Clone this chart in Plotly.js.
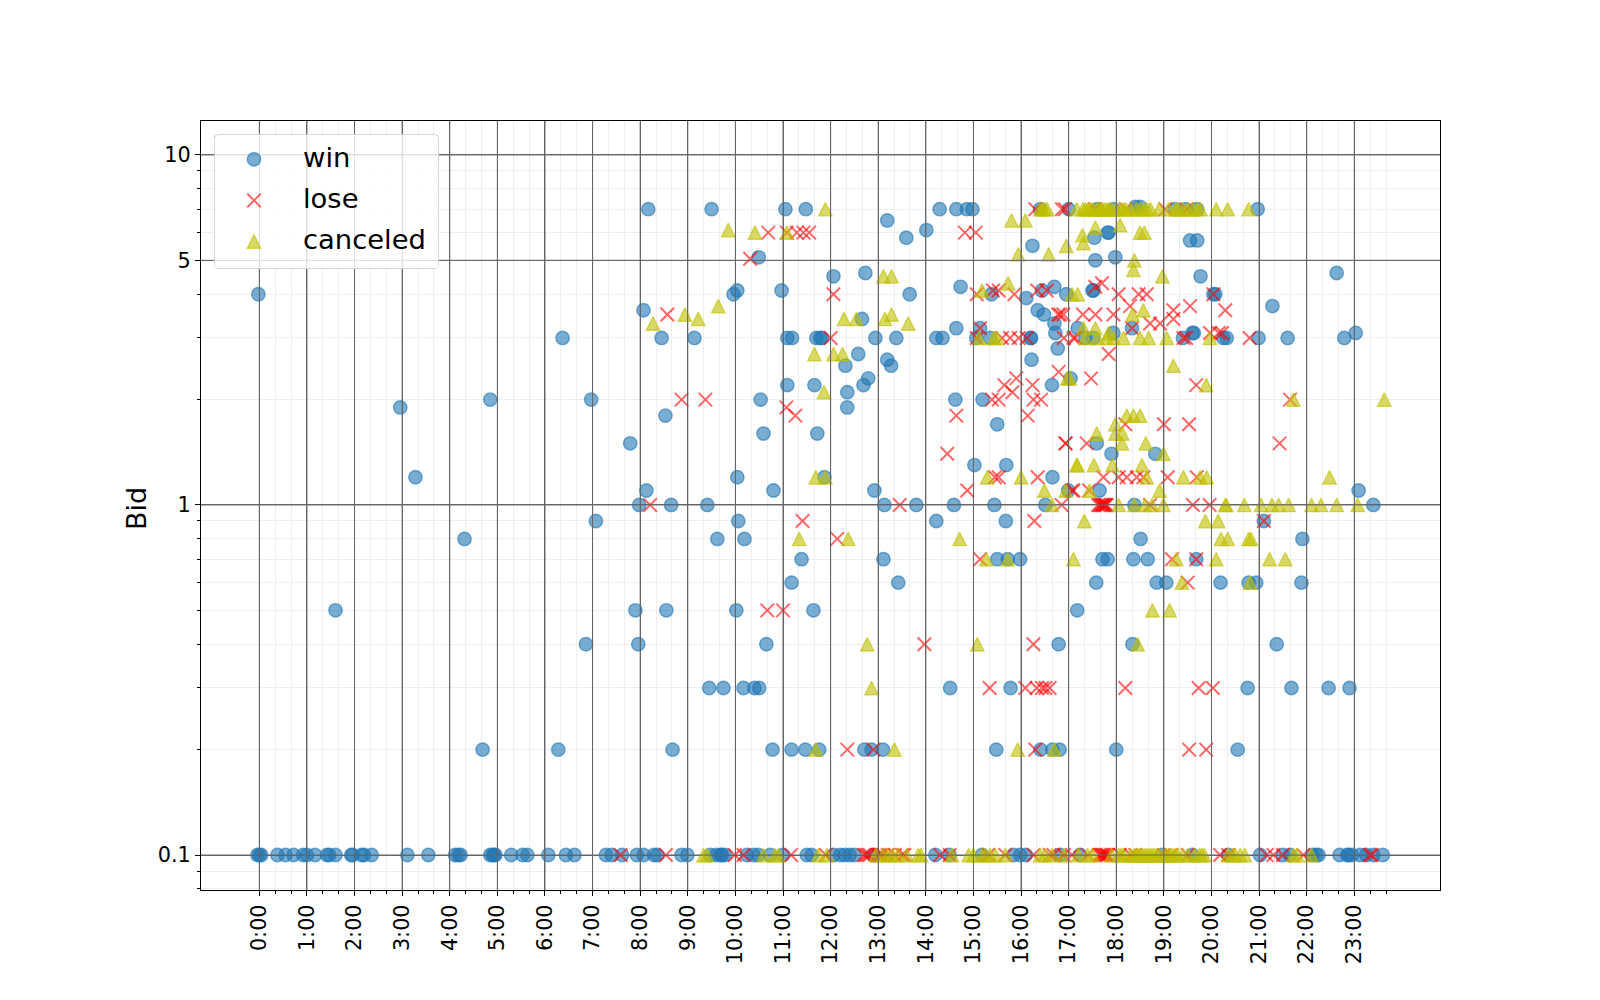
<!DOCTYPE html>
<html><head><meta charset="utf-8">
<script src="https://cdn.plot.ly/plotly-3.0.1.min.js"></script>
<style>html,body{margin:0;padding:0;background:#fff}</style></head>
<body><div id="chart" style="width:1600px;height:1000px"></div>
<script>
const hourTicks=[0,1,2,3,4,5,6,7,8,9,10,11,12,13,14,15,16,17,18,19,20,21,22,23];
const hourLabels=["0:00","1:00","2:00","3:00","4:00","5:00","6:00","7:00","8:00","9:00","10:00","11:00","12:00","13:00","14:00","15:00","16:00","17:00","18:00","19:00","20:00","21:00","22:00","23:00"];
const bidTicks=[0.1,1,5,10];
const bidLabels=["0.1","1","5","10"];
const bidMinor=[0.08,0.09,0.2,0.3,0.4,0.5,0.6,0.7,0.8,0.9,2,3,4,6,7,8,9];
const win=[[-0.02,4],[2.96,1.9],[3.28,1.2],[4.85,2],[6.37,3],[6.97,2],[7.79,1.5],[8.07,3.6],[8.17,7],[8.45,3],[8.53,1.8],[8.13,1.1],[7.98,1],[8.65,1],
[9.5,7],[11.05,7],[11.48,7],[13.19,6.5],[13.59,5.8],[14.01,6.1],[14.29,7],[14.64,7],[14.86,7],[14.98,7],[16.24,5.5],[16.4,7],[17,7],[17.6,7],[17.94,7],[18.4,7.1],[18.5,7.1],[19.24,7],[19.46,7],[19.7,7],
[10.49,5.1],[12.06,4.5],[12.73,4.6],[10.04,4.1],[9.96,4],[10.97,4.1],[13.66,4],[14.73,4.2],[15.38,4],[16.11,3.9],[16.44,4.1],[16.7,4.2],[16.95,4],[12.66,3.4],[16.35,3.6],[16.48,3.5],[15.14,3.2],[14.64,3.2],[16.7,3.3],[17.19,3.2],[16.72,3.1],
[9.14,3],[11.09,3],[11.19,3],[11.7,3],[11.78,3],[11.82,3],[12.94,3],[13.38,3],[14.22,3],[14.35,3],[15.06,3],[15.35,3],[16.21,3],[12.58,2.7],[13.19,2.6],[13.27,2.5],[12.31,2.5],[16.77,2.8],[16.22,2.6],[12.79,2.3],[12.69,2.2],[11.09,2.2],[11.66,2.2],[12.35,2.1],[16.65,2.2],[17.04,2.3],
[10.53,2],[12.35,1.9],[14.62,2],[15.19,2],[15.5,1.7],[10.59,1.6],[11.72,1.6],[15.02,1.3],[15.69,1.3],[10.04,1.2],[11.87,1.2],[16.66,1.2],[10.8,1.1],[12.92,1.1],[16.99,1.1],[9.41,1],[13.13,1],[13.8,1],[14.59,1],[15.44,1],[16.51,1],
[17.54,5.8],[17.82,6],[17.84,6],[17.56,5],[17.98,5.1],[19.55,5.7],[19.7,5.7],[19.77,4.5],[17.5,4.1],[17.52,4.1],[17.35,3],[17.52,3],[17.94,3.1],[18.33,3.2],[19.4,3],[19.6,3.1],[19.63,3.1],[20.04,4],[16.2,3],[17.59,1.5],[17.9,1.4],[18.82,1.4],[17.65,1.1],[18.38,1],
[15.68,0.9],[21.1,0.9],[18.51,0.8],[21.91,0.8],[15.5,0.7],[15.72,0.7],[15.98,0.7],[17.71,0.7],[17.82,0.7],[18.36,0.7],[18.66,0.7],[19.68,0.7],[17.58,0.6],[18.85,0.6],[19.05,0.6],[20.19,0.6],[20.78,0.6],[20.94,0.6],[21.89,0.6],[17.18,0.5],[16.79,0.4],[18.34,0.4],[21.37,0.4],[15.78,0.3],[20.76,0.3],[21.68,0.3],[22.46,0.3],[22.9,0.3],[16.41,0.2],[16.66,0.2],[16.81,0.2],[18,0.2],[20.55,0.2],[15.48,0.2],
[22.63,4.6],[20.08,4],[21.28,3.7],[20.25,3],[20.32,3],[20.99,3],[21.6,3],[22.79,3],[23.03,3.1],[20.97,7],[23.09,1.1],[23.4,1],
[7.07,0.9],[10.06,0.9],[14.22,0.9],[9.62,0.8],[10.19,0.8],[11.39,0.7],[13.11,0.7],[11.18,0.6],[13.42,0.6],[7.9,0.5],[8.55,0.5],[10.02,0.5],[11.64,0.5],[7.96,0.4],[10.65,0.4],[6.86,0.4],[9.45,0.3],[9.75,0.3],[10.17,0.3],[10.4,0.3],[10.5,0.3],[14.51,0.3],[8.68,0.2],[10.78,0.2],[11.18,0.2],[11.47,0.2],[11.76,0.2],[12.71,0.2],[12.86,0.2],[13.1,0.2],[4.69,0.2],[6.28,0.2],[1.6,0.5],[4.31,0.8],
[-0.04,0.1],[0,0.1],[0.04,0.1],[0.38,0.1],[0.55,0.1],[0.72,0.1],[0.92,0.1],[1,0.1],[1.17,0.1],[1.42,0.1],[1.47,0.1],[1.6,0.1],[1.93,0.1],[1.96,0.1],[2.15,0.1],[2.2,0.1],[2.36,0.1],[3.11,0.1],[3.55,0.1],[4.11,0.1],[4.18,0.1],[4.23,0.1],[4.85,0.1],[4.9,0.1],[4.93,0.1],[4.96,0.1],[5.29,0.1],[5.53,0.1],[5.63,0.1],[6.07,0.1],[6.44,0.1],[6.62,0.1],[7.28,0.1],[7.4,0.1],[7.62,0.1],[7.93,0.1],[8.07,0.1],[8.29,0.1],[8.36,0.1],[8.87,0.1],[8.99,0.1],[9.47,0.1],[9.6,0.1],[9.69,0.1],[9.72,0.1],[9.78,0.1],[10.24,0.1],[10.38,0.1],[10.48,0.1],[10.73,0.1],[11,0.1],[11.5,0.1],[11.6,0.1],[12.06,0.1],[12.2,0.1],[12.3,0.1],[12.4,0.1],[12.5,0.1],[12.9,0.1],[14.2,0.1],[14.5,0.1],[15.18,0.1],[15.84,0.1],[15.98,0.1],[16.1,0.1],[16.82,0.1],[17.24,0.1],[18.96,0.1],[19.6,0.1],[20.35,0.1],[21.02,0.1],[21.5,0.1],[21.65,0.1],[22.12,0.1],[22.2,0.1],[22.25,0.1],[22.69,0.1],[22.85,0.1],[22.88,0.1],[22.95,0.1],[23.12,0.1],[23.25,0.1],[23.4,0.1],[23.6,0.1]];
const lose=[[8.57,3.5],[8.87,2],[9.37,2],[8.21,1],[10.69,6],[11.08,6],[11.29,6],[11.43,6],[11.55,6],[10.31,5.05],[12.06,4],[11.07,1.9],[11.26,1.8],[12,3],[14.82,6],[15.05,6],[14.64,1.8],[14.45,1.4],[16.3,7],[16.86,7],[16.92,7],
[15.07,4],[15.41,4.1],[15.53,4.1],[15.86,4],[16.34,4.1],[16.54,4.1],[15.07,3],[15.14,3.2],[15.6,3],[15.77,3],[15.95,3],[16.12,3],[16.89,3.5],[16.78,3.5],[16.9,3],[17.14,3],[16.79,2.4],[15.9,2.3],[15.65,2.2],[15.82,2.1],[16.24,2.2],[16.26,2],[16.42,2],[15.39,2],[15.53,2],[16.14,1.8],[16.94,1.5],[15.53,1.2],[15.45,1.2],[16.35,1.2],[14.87,1.1],[13.45,1],[16.85,1],[17.1,1.1],
[17.56,4.2],[17.7,4.3],[18.05,4],[18.47,4],[18.64,4],[20.04,4],[16.82,3.5],[17.3,3.5],[17.56,3.5],[17.94,3.5],[18.29,3.7],[19.2,3.6],[19.2,3.4],[19.55,3.7],[17.1,3],[18.33,3.2],[18.71,3.3],[18.92,3.3],[19.41,3],[19.47,3],[17.84,2.7],[17.47,2.3],[19.68,2.2],[18.19,1.7],[19,1.7],[19.53,1.7],[16.93,1.5],[17.38,1.5],
[17.73,1.2],[18.05,1.2],[18.22,1.2],[18.43,1.2],[18.57,1.2],[19.08,1.2],[19.69,1.2],[17.07,1.1],[17.43,1.1],[17.62,1],[17.65,1],[17.68,1],[17.7,1],[17.72,1],[17.74,1],[17.76,1],[17.78,1],[17.8,1],[18.71,1],[19.61,1],[19.96,1],
[16.28,0.9],[21.1,0.9],[19.17,0.7],[19.68,0.7],[19.5,0.6],[11.41,0.9],[12.14,0.8],[15.14,0.7],[10.67,0.5],[11,0.5],[13.97,0.4],[16.26,0.4],[15.34,0.3],[16.09,0.3],[16.33,0.3],[16.44,0.3],[16.51,0.3],[16.6,0.3],[18.19,0.3],[19.73,0.3],[20.03,0.3],[12.35,0.2],[12.9,0.2],[16.3,0.2],[19.53,0.2],[19.89,0.2],
[20.29,3.6],[20.15,3.1],[20.22,3.1],[19.97,3.1],[20.8,3],[21.65,2],[21.43,1.5],[19.03,7],[19.48,7],[17.55,7],[18.2,7],
[7.59,0.1],[8.54,0.1],[9.99,0.1],[10.17,0.1],[11.17,0.1],[11.9,0.1],[12.7,0.1],[12.74,0.1],[12.78,0.1],[12.82,0.1],[13,0.1],[13.05,0.1],[13.1,0.1],[13.2,0.1],[13.35,0.1],[13.5,0.1],[13.55,0.1],[14.3,0.1],[14.5,0.1],[15.31,0.1],[15.67,0.1],[16.26,0.1],[16.6,0.1],[16.68,0.1],[16.9,0.1],[17.07,0.1],[17.4,0.1],[17.64,0.1],[17.67,0.1],[17.7,0.1],[17.72,0.1],[17.75,0.1],[17.78,0.1],[17.8,0.1],[17.83,0.1],[18.08,0.1],[18.3,0.1],[18.4,0.1],[19,0.1],[19.15,0.1],[19.5,0.1],[20.18,0.1],[20.35,0.1],[21.16,0.1],[21.3,0.1],[21.5,0.1],[21.93,0.1],[23.33,0.1],[23.37,0.1]];
const canceled=[[8.27,3.3],[8.94,3.5],[9.22,3.4],[9.64,3.7],[9.85,6.1],[10.41,6],[11.08,6],[11.89,7],[15.8,6.5],[16.09,6.5],[13.11,4.5],[13.28,4.5],[15.18,4.1],[15.73,4.3],[15.94,5.2],[16.58,5.2],[16.95,5.5],[12.28,3.4],[12.54,3.4],[13.14,3.4],[13.28,3.5],[13.63,3.3],[11.66,2.7],[12.06,2.7],[12.25,2.7],[11.86,2.1],[15.12,3],[15.43,3],[15.5,3],[16.97,2.3],[17.17,1.3],[11.69,1.2],[11.89,1.2],[15.29,1.2],[16,1.2],[16.49,1.1],[16.94,1.1],[16.65,1],
[16.4,7],[16.45,7],[16.5,7],[16.55,7],[17.17,7],[17.3,7],[17.35,7],[17.4,7],[17.45,7],[17.5,7],[17.6,7],[17.65,7],[17.7,7],[17.75,7],[17.8,7],[17.85,7],[17.9,7],[18,7],[18.1,7],[18.15,7],[18.2,7],[18.3,7],[18.42,7],[18.5,7],[18.58,7],[18.65,7],[18.72,7],[18.9,7],[19.1,7],[19.25,7],[19.3,7],[19.4,7],[19.5,7],[19.6,7],[19.7,7],[19.77,7],[20.1,7],[20.34,7],[20.78,7],
[17.29,5.9],[17.56,6.2],[17.31,5.6],[18.08,6.3],[18.5,6],[18.59,6],[18.38,5],[18.36,4.7],[18.97,4.5],[17.07,4],[17.19,4],[18.57,3.6],[18.34,3.5],[17.31,3.2],[17.56,3.2],[17.84,3.1],[17.35,3],[17.6,3],[17.8,3],[17.94,3],[18.15,3],[18.5,3],[18.68,3],[19.06,3],[19.97,3],
[19.2,2.5],[17.02,2.3],[19.89,2.2],[18.22,1.8],[18.36,1.8],[18.5,1.8],[17.98,1.7],[17.59,1.6],[17.98,1.6],[18.13,1.6],[18.12,1.5],[18.62,1.5],[18.99,1.4],[17.18,1.3],[17.53,1.3],[17.92,1.3],[18.54,1.3],[18.64,1.2],[19.41,1.2],[19.76,1.2],[19.9,1.2],[17.44,1.1],[18.91,1.1],[18.05,1],[18.38,1],[18.6,1],[18.75,1],[18.99,1],
[20.29,1],[20.31,1],[20.69,1],[21.04,1],[21.27,1],[21.41,1],[21.62,1],[22.1,1],[22.3,1],[22.63,1],[23.07,1],[17.33,0.9],[19.87,0.9],[20.14,0.9],[20.2,0.8],[20.34,0.8],[20.78,0.8],[20.83,0.8],[17.1,0.7],[15.72,0.7],[19.26,0.7],[20.1,0.7],[21.22,0.7],[21.55,0.7],[19.38,0.6],[20.81,0.6],[18.76,0.5],[19.12,0.5],[18.45,0.4],[12.86,0.3],[12.77,0.4],[15.08,0.4],[11.34,0.8],[12.37,0.8],[14.71,0.8],[15.27,0.7],[11.69,0.2],[13.34,0.2],[15.93,0.2],[16.7,0.2],[21.72,2],[23.63,2],[22.48,1.2],
[9.33,0.1],[9.4,0.1],[10.59,0.1],[10.83,0.1],[10.9,0.1],[11.74,0.1],[11.92,0.1],[12.95,0.1],[13.1,0.1],[13.2,0.1],[13.3,0.1],[13.42,0.1],[13.6,0.1],[13.84,0.1],[13.9,0.1],[14.55,0.1],[14.9,0.1],[15,0.1],[15.18,0.1],[15.25,0.1],[15.35,0.1],[15.46,0.1],[15.67,0.1],[16.4,0.1],[16.5,0.1],[16.65,0.1],[16.9,0.1],[17.2,0.1],[17.4,0.1],[17.5,0.1],[17.9,0.1],[18.05,0.1],[18.1,0.1],[18.15,0.1],[18.3,0.1],[18.38,0.1],[18.42,0.1],[18.46,0.1],[18.5,0.1],[18.55,0.1],[18.6,0.1],[18.65,0.1],[18.7,0.1],[18.75,0.1],[18.8,0.1],[18.85,0.1],[18.9,0.1],[19,0.1],[19.05,0.1],[19.1,0.1],[19.15,0.1],[19.2,0.1],[19.25,0.1],[19.3,0.1],[19.4,0.1],[19.5,0.1],[19.65,0.1],[19.75,0.1],[19.8,0.1],[19.85,0.1],[20.35,0.1],[20.45,0.1],[20.5,0.1],[20.6,0.1],[20.7,0.1],[21.72,0.1],[21.8,0.1],[22.1,0.1]];

const gridDark='#666666', gridLight='#eeeeee';
const hourMinor=[];
for(const h of hourTicks){hourMinor.push(h+1/3,h+2/3);}
const blue='rgba(31,119,180,0.6)', red='rgba(255,0,0,0.6)', olive='rgba(191,191,0,0.6)';
function tr(pts,name,marker){return {type:'scatter',mode:'markers',name,legendgroup:name,x:pts.map(p=>p[0]),y:pts.map(p=>p[1]),marker};}
const traces=[
 tr(win,'win',{symbol:'circle',size:13.4,color:blue,line:{color:blue,width:1.4}}),
 tr(lose,'lose',{symbol:'x-thin',size:13.5,color:red,line:{color:red,width:2}}),
 tr(canceled,'canceled',{symbol:'triangle-up',size:12,color:olive,line:{color:olive,width:1.4}})
];
const shapes=[];
for(const h of hourTicks)shapes.push({type:'line',layer:'above',xref:'x',yref:'paper',x0:h,x1:h,y0:0,y1:1,line:{color:gridDark,width:1}});
for(const b of bidTicks)shapes.push({type:'line',layer:'above',xref:'paper',yref:'y',x0:0,x1:1,y0:b,y1:b,line:{color:gridDark,width:1}});
const font={family:'DejaVu Sans',color:'#000'};
const layout={
 width:1600,height:1000,paper_bgcolor:'#fff',plot_bgcolor:'#fff',font,
 margin:{l:201,r:160,t:121,b:110,pad:0},
 xaxis:{type:'linear',range:[-1.225,24.8],tickmode:'array',tickvals:hourTicks,ticktext:hourLabels,tickangle:-90,ticks:'outside',ticklen:5,tickwidth:1,tickcolor:'#000',tickfont:{size:20.8,family:'DejaVu Sans'},showgrid:true,gridcolor:gridDark,gridwidth:1,zeroline:false,showline:true,mirror:true,linecolor:'#000',linewidth:1.1,
  minor:{tickmode:'array',tickvals:hourMinor,ticks:'outside',ticklen:3,tickwidth:1,tickcolor:'#000',showgrid:true,gridcolor:gridLight,gridwidth:1}},
 yaxis:{type:'log',range:[-1.1,1.097],tickmode:'array',tickvals:bidTicks,ticktext:bidLabels,ticks:'outside',ticklen:5,tickwidth:1,tickcolor:'#000',tickfont:{size:20.8,family:'DejaVu Sans'},showgrid:true,gridcolor:gridDark,gridwidth:1,zeroline:false,showline:true,mirror:true,linecolor:'#000',linewidth:1.1,
  title:{text:'Bid',font:{size:27,family:'DejaVu Sans'},standoff:4},
  minor:{tickmode:'array',tickvals:bidMinor,ticks:'outside',ticklen:3,tickwidth:1,tickcolor:'#000',showgrid:true,gridcolor:gridLight,gridwidth:1}},
 legend:{x:13/1239,y:1-13/769,xanchor:'left',yanchor:'top',bgcolor:'rgba(255,255,255,0.8)',bordercolor:'#d6d6d6',borderwidth:1,font:{size:27.4,family:'DejaVu Sans'},itemwidth:78,tracegroupgap:2.5,itemclick:false},
 shapes
};
Plotly.newPlot('chart',traces,layout,{staticPlot:true,displayModeBar:false}).then(gd=>{
 const tri='M-6.7,6.7H6.7L0,-6.7Z';
 const t=gd.querySelectorAll('.scatterlayer .trace')[2];
 if(t)t.querySelectorAll('path.point').forEach(p=>p.setAttribute('d',tri));
 const lg=gd.querySelectorAll('.legend .traces');
 if(lg[2])lg[2].querySelectorAll('path.scatterpts').forEach(p=>p.setAttribute('d',tri));
 lg.forEach(g=>{
  const pts=g.querySelector('.legendpoints');
  if(pts)pts.setAttribute('transform','translate(-5,0)');
  const tx=g.querySelector('text');
  if(tx)tx.setAttribute('y',(parseFloat(tx.getAttribute('y'))||0)-3);
 });
 const bg=gd.querySelector('.legend rect.bg');
 if(bg){bg.setAttribute('width',224);bg.setAttribute('height',134);bg.setAttribute('rx',4);bg.setAttribute('ry',4);}
 const yt=gd.querySelector('.ytitle');
 if(yt)yt.setAttribute('transform','translate(1,3) '+(yt.getAttribute('transform')||''));
});
</script></body></html>
